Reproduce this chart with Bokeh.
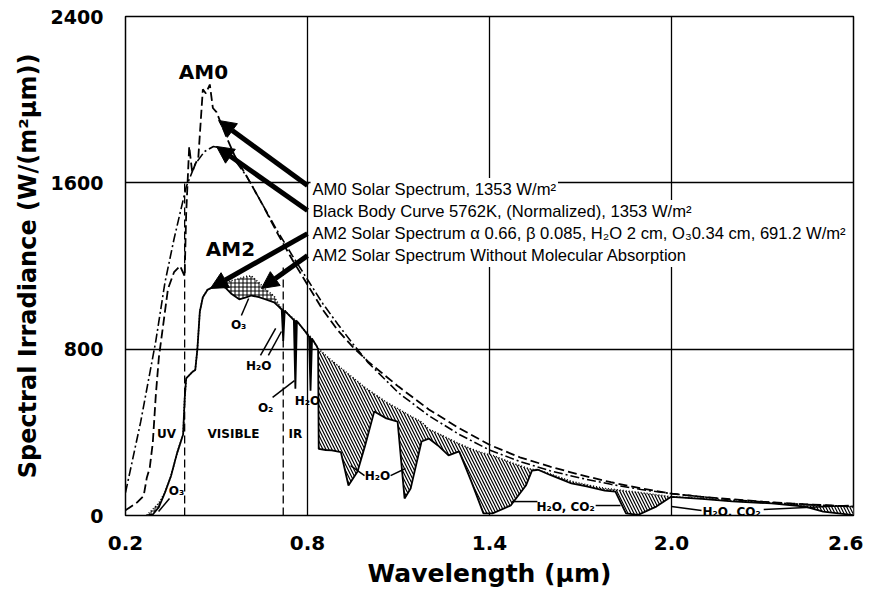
import numpy as np
from bokeh.plotting import figure
from bokeh.models import Range1d, Arrow, NormalHead, Label, FixedTicker, NumeralTickFormatter
from bokeh.core.properties import value
from bokeh.embed import file_html
from bokeh.resources import INLINE

# ---------------- data ----------------
x_ticks = [0.2, 0.8, 1.4, 2.0, 2.6]
y_ticks = [0, 800, 1600, 2400]

# AM0 solar spectrum (dashed)
am0_wl = [0.20, 0.22, 0.24, 0.26, 0.27, 0.28, 0.29, 0.30, 0.31, 0.32, 0.34, 0.36, 0.38, 0.395,
          0.40, 0.41, 0.42, 0.43, 0.44, 0.455, 0.465, 0.478, 0.488, 0.50, 0.53, 0.56, 0.60,
          0.65, 0.70, 0.75, 0.80, 0.85, 0.90, 0.95, 1.00, 1.05, 1.10, 1.20, 1.30, 1.40, 1.50,
          1.60, 1.70, 1.80, 1.90, 2.00, 2.10, 2.20, 2.30, 2.40, 2.50, 2.60]
am0_irr = [25, 45, 65, 95, 180, 230, 350, 580, 760, 870, 1090, 1170, 1200, 1150,
           1450, 1775, 1650, 1690, 1720, 2050, 2030, 2073, 1960, 1940, 1830, 1730, 1630,
           1500, 1360, 1230, 1110, 990, 890, 810, 740, 680, 620, 510, 420, 340, 280,
           235, 195, 160, 130, 105, 90, 78, 67, 57, 50, 43]

# Black body 5762 K normalized (dash-dot)
bb_wl = [0.20, 0.25, 0.30, 0.33, 0.36, 0.40, 0.43, 0.46, 0.49, 0.52, 0.55, 0.60, 0.65, 0.70,
         0.75, 0.80, 0.85, 0.90, 0.95, 1.00, 1.10, 1.20, 1.30, 1.40, 1.50, 1.60, 1.70, 1.80,
         1.90, 2.00, 2.20, 2.40, 2.60]
bb_irr = [110, 450, 840, 1120, 1330, 1580, 1690, 1750, 1775, 1765, 1730, 1630, 1500, 1370,
          1250, 1135, 1020, 920, 825, 735, 590, 480, 390, 315, 260, 215, 180, 150,
          125, 105, 75, 56, 43]

# AM2 (solid) and AM2 without molecular absorption (dotted), common wavelengths
am2_wl = [0.27, 0.29, 0.31, 0.33, 0.35, 0.37, 0.39, 0.395, 0.40, 0.42, 0.43, 0.437, 0.445,
          0.455, 0.47, 0.49, 0.51, 0.53, 0.55, 0.575, 0.60, 0.615, 0.64, 0.66, 0.69, 0.705,
          0.715, 0.72, 0.725, 0.735, 0.755, 0.76, 0.765, 0.79, 0.805, 0.81, 0.815, 0.83,
          0.835, 0.837, 0.86, 0.88, 0.91, 0.935, 0.965, 0.99, 1.02, 1.06, 1.097, 1.12, 1.14,
          1.176, 1.20, 1.23, 1.265, 1.30, 1.34, 1.38, 1.41, 1.47, 1.52, 1.54, 1.56, 1.60,
          1.67, 1.72, 1.78, 1.815, 1.85, 1.89, 1.95, 1.99, 2.00, 2.10, 2.20, 2.33, 2.44,
          2.50, 2.60]
am2_irr = [0, 5, 40, 110, 190, 300, 390, 560, 660, 690, 700, 800, 980,
           1050, 1085, 1100, 1110, 1095, 1065, 1040, 1050, 1058, 1050, 1040, 1025, 1005,
           990, 840, 985, 970, 940, 610, 935, 890, 860, 600, 850, 815,
           800, 320, 315, 313, 305, 144, 212, 337, 500, 467, 452, 82, 130,
           356, 370, 337, 289, 308, 164, 10, 10, 48, 144, 216, 220, 195,
           154, 140, 120, 115, 10, 3, 43, 82, 90, 80, 68, 58, 43,
           19, 2]
am2_noabs = [0, 30, 60, 110, 190, 300, 390, 560, 660, 690, 700, 800, 980,
             1050, 1085, 1100, 1110, 1120, 1130, 1140, 1150, 1152, 1120, 1090, 1055, 1015,
             995, 990, 985, 970, 945, 940, 935, 890, 865, 860, 850, 815,
             805, 800, 770, 745, 710, 680, 645, 615, 585, 545, 515, 495, 478,
             450, 415, 395, 370, 345, 320, 300, 290, 255, 230, 222, 220, 200,
             164, 148, 130, 125, 118, 112, 100, 92, 91, 82, 70, 60, 52,
             48, 43]

# UV / visible / IR boundaries (dashed verticals)
band_x = [0.395, 0.72]
band_top = [1600, 1200]

# curve captions with arrows
cap_text = ["AM0 Solar Spectrum, 1353 W/m²",
            "Black Body Curve 5762K, (Normalized), 1353 W/m²",
            "AM2 Solar Spectrum α 0.66, β 0.085, H₂O 2 cm, O₃0.34 cm, 691.2 W/m²",
            "AM2 Solar Spectrum Without Molecular Absorption"]
cap_x = 0.81
cap_y = [1568, 1462, 1356, 1250]
arr_x0 = [0.80, 0.80, 0.80, 0.80]
arr_y0 = [1587, 1467, 1356, 1250]
arr_x1 = [0.507, 0.50, 0.48, 0.648]
arr_y1 = [1900, 1775, 1092, 1092]

# big curve names
name_text = ["AM0", "AM2"]
name_x = [0.457, 0.546]
name_y = [2131, 1284]

# small annotations
note_text = ["O₃", "H₂O", "O₂", "H₂O", "UV", "VISIBLE", "IR", "O₃", "H₂O", "H₂O, CO₂", "H₂O, CO₂"]
note_x = [0.573, 0.639, 0.662, 0.800, 0.335, 0.556, 0.760, 0.368, 1.031, 1.651, 2.198]
note_y = [914, 717, 519, 553, 394, 394, 394, 120, 188, 43, 19]

lead_x0 = [0.582, 0.645, 0.671, 0.685, 0.345, 0.988, 1.074, 1.473, 1.750, 2.000, 2.304]
lead_y0 = [962, 770, 770, 568, 82, 192, 192, 67, 48, 43, 29]
lead_x1 = [0.606, 0.695, 0.714, 0.757, 0.309, 0.942, 1.123, 1.558, 1.832, 2.099, 2.584]
lead_y1 = [1044, 900, 885, 649, 19, 240, 226, 67, 48, 24, 48]

# ---------------- figure ----------------
p = figure(width=863, height=593, x_range=Range1d(0.2, 2.6), y_range=Range1d(0, 2400),
           output_backend="svg", toolbar_location=None,
           min_border_left=125, min_border_right=10, min_border_top=16, min_border_bottom=78)
p.background_fill_color = "white"
p.border_fill_color = "white"
p.outline_line_color = "black"
p.outline_line_width = 1.5

for ax, ticks in ((p.xaxis, x_ticks), (p.yaxis, y_ticks)):
    ax.ticker = FixedTicker(ticks=ticks)
    ax.axis_line_color = None
    ax.major_tick_line_color = None
    ax.minor_tick_line_color = None
    ax.major_label_text_font = "DejaVu Sans"
    ax.major_label_text_font_style = "bold"
    ax.major_label_text_color = "black"
    ax.axis_label_text_font = "DejaVu Sans"
    ax.axis_label_text_font_style = "bold"
    ax.axis_label_text_color = "black"
p.xaxis.major_label_text_font_size = "20px"
p.yaxis.major_label_text_font_size = "19px"
p.xaxis.axis_label_text_font_size = "25px"
p.yaxis.axis_label_text_font_size = "24px"
p.xaxis.formatter = NumeralTickFormatter(format="0.0")
p.yaxis.formatter = NumeralTickFormatter(format="0")
p.xaxis.axis_label = "Wavelength (µm)"
p.yaxis.axis_label = "Spectral Irradiance (W/(m²µm))"
p.xaxis.major_label_standoff = 14
p.yaxis.major_label_standoff = 16
p.xaxis.axis_label_standoff = 6
p.yaxis.axis_label_standoff = 6

p.xgrid.ticker = FixedTicker(ticks=x_ticks)
p.ygrid.ticker = FixedTicker(ticks=y_ticks)
for g in (p.xgrid, p.ygrid):
    g.grid_line_color = "black"
    g.grid_line_width = 1.3
    g.grid_line_alpha = 1.0

wl = np.array(am2_wl)
lo = np.array(am2_irr)
hi = np.array(am2_noabs)

# absorption areas
m_uv = wl <= 0.33
p.varea(x=wl[m_uv], y1=lo[m_uv], y2=hi[m_uv], fill_color="white",
        hatch_pattern="cross", hatch_scale=4, hatch_weight=1, hatch_color="black")
m_o3 = (wl >= 0.49) & (wl <= 0.705)
p.varea(x=wl[m_o3], y1=lo[m_o3], y2=hi[m_o3], fill_color="white",
        hatch_pattern="cross", hatch_scale=4, hatch_weight=1, hatch_color="black")
m_sp = (wl >= 0.705) & (wl <= 0.837)
p.varea(x=wl[m_sp], y1=lo[m_sp], y2=hi[m_sp], fill_color="black")
m_ir = wl >= 0.835
p.varea(x=wl[m_ir], y1=lo[m_ir], y2=hi[m_ir], fill_color="white",
        hatch_pattern="left_diagonal_line", hatch_scale=6, hatch_weight=1.2, hatch_color="black")

# band boundaries
p.segment(x0=band_x, y0=[0, 0], x1=band_x, y1=band_top, line_color="black",
          line_width=1.3, line_dash="8 4")

# curves
p.line(bb_wl, bb_irr, line_color="black", line_width=1.6, line_dash="9 3 2 3")
p.line(am0_wl, am0_irr, line_color="black", line_width=1.8, line_dash="9 4")
p.line(am2_wl, am2_noabs, line_color="black", line_width=1.6, line_dash="1 2")
p.line(am2_wl, am2_irr, line_color="black", line_width=1.8)

# leader lines and small notes
p.segment(x0=lead_x0, y0=lead_y0, x1=lead_x1, y1=lead_y1, line_color="black", line_width=1.5)
p.text(x=note_x, y=note_y, text=note_text, text_font=value("DejaVu Sans"),
       text_font_style="bold", text_font_size="12px", text_align="center",
       text_baseline="middle", text_color="black")

p.text(x=name_x, y=name_y, text=name_text, text_font=value("DejaVu Sans"),
       text_font_style="bold", text_font_size="20px", text_align="center",
       text_baseline="middle", text_color="black")

# captions with white background
for t, yy in zip(cap_text, cap_y):
    p.add_layout(Label(x=cap_x, y=yy, text=t, text_font="Liberation Sans",
                       text_font_size="16.6px", text_baseline="middle", text_align="left",
                       text_color="black", background_fill_color="white", padding=2))

for xs, ys, xe, ye in zip(arr_x0, arr_y0, arr_x1, arr_y1):
    p.add_layout(Arrow(end=NormalHead(size=17, fill_color="black", line_color="black"),
                       x_start=xs, y_start=ys, x_end=xe, y_end=ye,
                       line_color="black", line_width=5))

open("out.html", "w").write(file_html(p, INLINE))
